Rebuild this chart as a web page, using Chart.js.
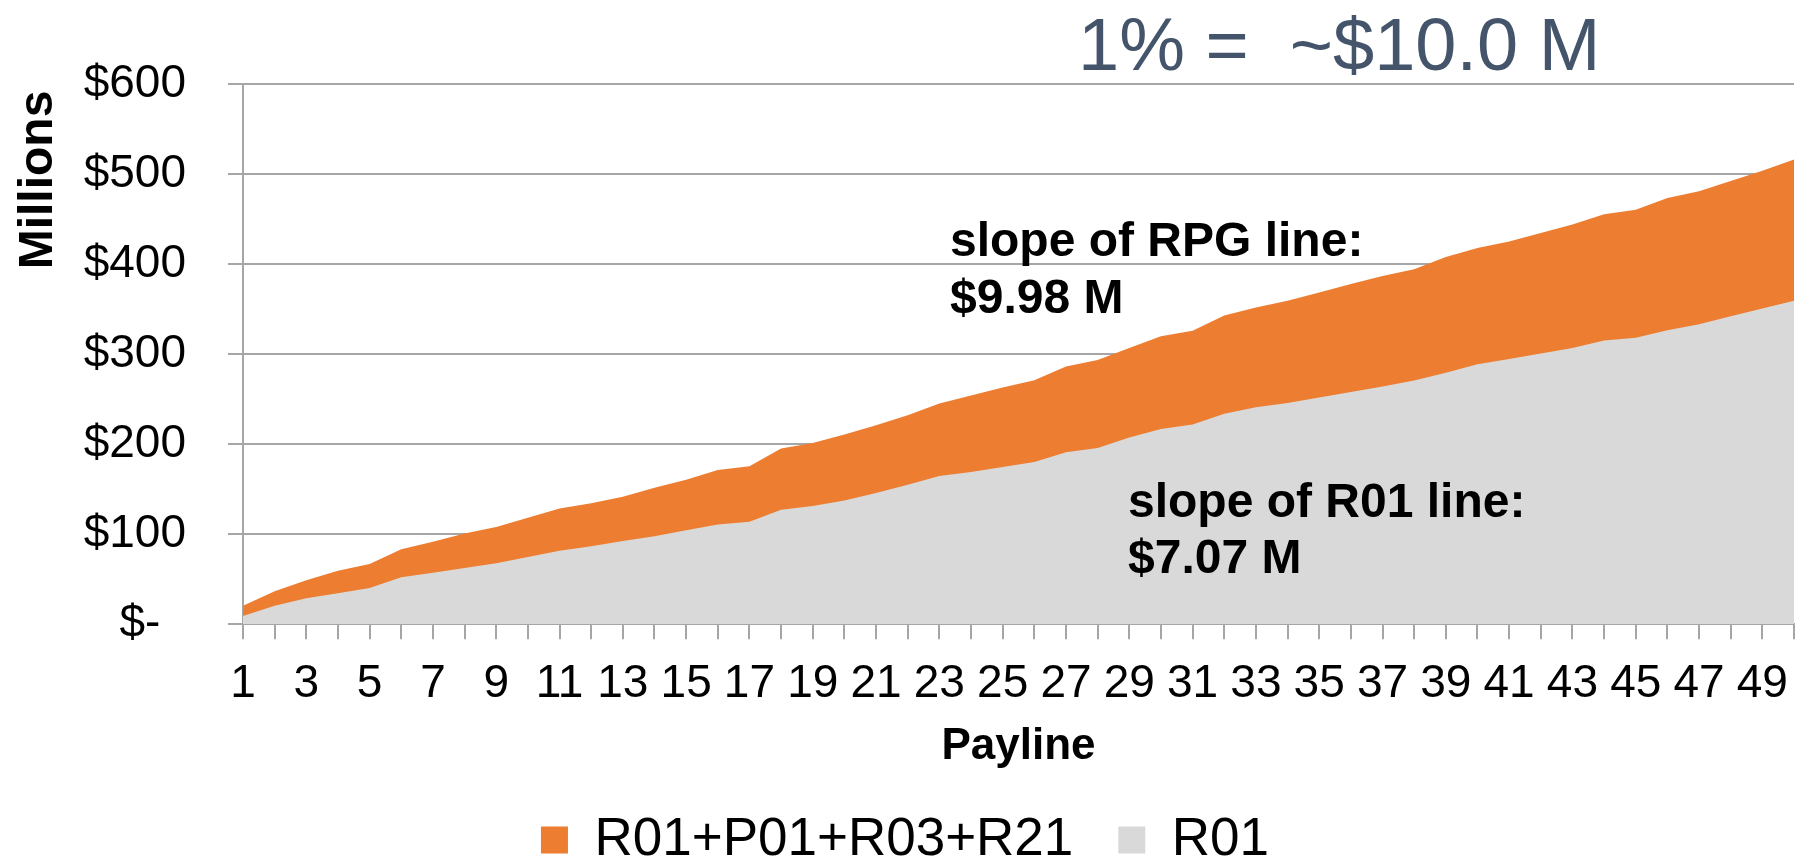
<!DOCTYPE html>
<html>
<head>
<meta charset="utf-8">
<title>Payline chart</title>
<script src="https://cdn.jsdelivr.net/npm/chart.js@4.4.1/dist/chart.umd.min.js"></script>
<style>
  html, body { margin: 0; padding: 0; background: #ffffff; }
  #wrap { width: 1805px; height: 860px; }
</style>
</head>
<body>
<div id="wrap"><canvas id="paylineChart" width="1805" height="860"></canvas></div>
<script>
// Payline categories (x axis)
const paylines = ['1','2','3','4','5','6','7','8','9','10',
  '11','12','13','14','15','16','17','18','19','20',
  '21','22','23','24','25','26','27','28','29','30',
  '31','32','33','34','35','36','37','38','39','40',
  '41','42','43','44','45','46','47','48','49','50'];

// R01+P01+R03+R21 totals, $ millions
const rpgValues = [20.6, 36.8, 49.0, 59.6, 67.0, 83.4, 91.6, 100.7, 108.1, 118.3,
  128.6, 134.3, 141.7, 151.6, 160.5, 171.4, 175.5, 195.2, 201.3, 210.8,
  221.0, 232.1, 245.3, 254.2, 262.9, 271.1, 286.2, 293.6, 306.8, 319.9,
  326.1, 342.9, 351.9, 359.3, 368.4, 378.0, 386.8, 394.2, 407.8, 418.0,
  425.0, 434.5, 443.9, 455.4, 460.3, 473.5, 480.9, 492.4, 503.8, 516.2];

// R01 only, $ millions
const r01Values = [9.1, 20.6, 28.9, 34.6, 40.4, 52.3, 57.2, 62.5, 67.9, 74.8,
  81.8, 86.7, 92.5, 97.8, 104.4, 110.9, 113.8, 127.3, 131.5, 137.6,
  145.8, 154.9, 164.7, 169.2, 174.6, 180.3, 191.0, 195.9, 207.4, 216.8,
  221.8, 233.7, 241.0, 245.8, 251.8, 258.1, 264.2, 270.7, 279.4, 288.8,
  294.5, 300.7, 306.9, 315.1, 318.3, 326.5, 333.1, 342.1, 350.7, 359.4];

// y axis ticks
const yTicks = [0, 100, 200, 300, 400, 500, 600];

const headline = '1% =  ~$10.0 M';
const rpgNote = ['slope of RPG line:', '$9.98 M'];
const r01Note = ['slope of R01 line:', '$7.07 M'];

const FONT = '"Liberation Sans", Arial, sans-serif';
const GRID = '#A6A6A6';

// extra texts: headline, "Millions" and the two slope notes
const notesPlugin = {
    id: 'notes',
    afterDraw(chart) {
        const ctx = chart.ctx;
        ctx.save();
        ctx.textAlign = 'left';
        ctx.textBaseline = 'alphabetic';

        ctx.fillStyle = '#44546A';
        ctx.font = '74px ' + FONT;
        ctx.fillText(headline, 1078, 70);

        ctx.fillStyle = '#000000';
        ctx.font = 'bold 48px ' + FONT;
        ctx.fillText(rpgNote[0], 950, 256);
        ctx.fillText(rpgNote[1], 950, 313);
        ctx.fillText(r01Note[0], 1128, 517);
        ctx.fillText(r01Note[1], 1128, 573);

        // rotated unit label
        ctx.translate(52, 180);
        ctx.rotate(-Math.PI / 2);
        ctx.textAlign = 'center';
        ctx.font = 'bold 48px ' + FONT;
        ctx.fillText('Millions', 0, 0);
        ctx.restore();
    }
};

document.addEventListener('DOMContentLoaded', function() {
    Chart.defaults.font.family = FONT;
    Chart.defaults.color = '#000000';

    const ctx = document.getElementById('paylineChart').getContext('2d');
    new Chart(ctx, {
        type: 'line',
        data: {
            labels: paylines,
            datasets: [
                {
                    label: 'R01+P01+R03+R21',
                    data: rpgValues,
                    backgroundColor: '#ED7D31',
                    borderColor: 'rgba(0,0,0,0)',
                    borderWidth: 0,
                    pointRadius: 0,
                    fill: 'origin',
                    order: 1
                },
                {
                    label: 'R01',
                    data: r01Values,
                    backgroundColor: '#D9D9D9',
                    borderColor: 'rgba(0,0,0,0)',
                    borderWidth: 0,
                    pointRadius: 0,
                    fill: 'origin',
                    order: 0
                }
            ]
        },
        options: {
            responsive: false,
            animation: false,
            layout: {
                // legend box is taller than its drawn row, so let it hang below
                padding: { left: 16, right: 11, top: 84, bottom: -16.5 }
            },
            scales: {
                x: {
                    offset: false,
                    afterFit: function(axis) { axis.height = 144.2; },
                    grid: {
                        drawOnChartArea: false,
                        drawTicks: true,
                        tickLength: 15,
                        color: GRID,
                        lineWidth: 2
                    },
                    border: { display: true, color: GRID, width: 2 },
                    ticks: {
                        autoSkip: false,
                        maxRotation: 0,
                        minRotation: 0,
                        padding: 11,
                        font: { size: 46, lineHeight: 1.5 },
                        callback: function(value, index) {
                            return index % 2 === 0 ? paylines[index] : '';
                        }
                    },
                    title: {
                        display: true,
                        text: 'Payline',
                        font: { size: 44, weight: 'bold' },
                        padding: { top: 0, bottom: -5 }
                    }
                },
                y: {
                    min: 0,
                    max: 600,
                    afterFit: function(axis) { axis.width = 227; },
                    afterBuildTicks: function(axis) {
                        axis.ticks = yTicks.map(v => ({ value: v }));
                    },
                    grid: {
                        color: GRID,
                        lineWidth: 2,
                        tickLength: 15
                    },
                    border: { display: true, color: GRID, width: 2 },
                    ticks: {
                        padding: 42,
                        font: { size: 46 },
                        callback: function(value) {
                            return value === 0 ? '$-  ' : '$' + value;
                        }
                    }
                }
            },
            plugins: {
                legend: {
                    display: true,
                    position: 'bottom',
                    labels: {
                        boxWidth: 27,
                        boxHeight: 27,
                        padding: 45,
                        font: { size: 53 },
                        sort: function(a, b) { return a.datasetIndex - b.datasetIndex; }
                    }
                },
                tooltip: { enabled: false }
            }
        },
        plugins: [notesPlugin]
    });
});
</script>
</body>
</html>
